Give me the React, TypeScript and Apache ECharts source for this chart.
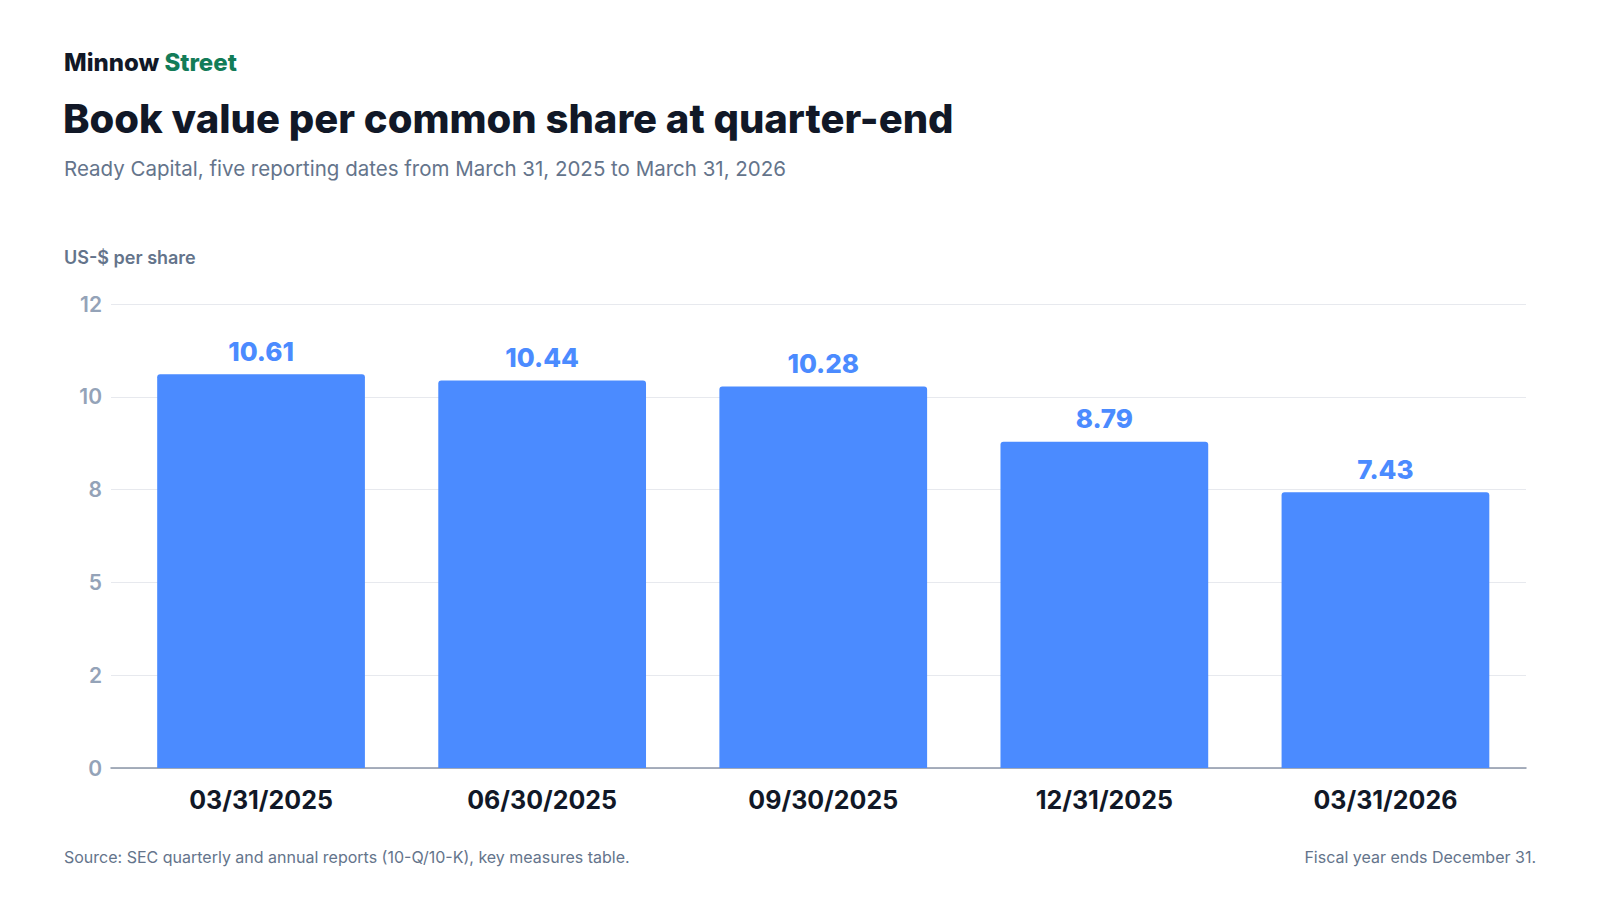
import React, { useEffect, useRef } from "react";
import * as echarts from "echarts";

const CATEGORIES = ["03/31/2025", "06/30/2025", "09/30/2025", "12/31/2025", "03/31/2026"];
const BOOK_VALUES = [10.61, 10.44, 10.28, 8.79, 7.43];
const Y_TICK_LABELS = ["0", "2", "5", "8", "10", "12"];
const Y_MIN = 0;
const Y_MAX = 12.5;
const Y_INTERVAL = 2.5;

const BRAND_A = "Minnow";
const BRAND_B = "Street";
const TITLE = "Book value per common share at quarter-end";
const SUBTITLE = "Ready Capital, five reporting dates from March 31, 2025 to March 31, 2026";
const Y_NAME = "US-$ per share";
const SOURCE = "Source: SEC quarterly and annual reports (10-Q/10-K), key measures table.";
const NOTE = "Fiscal year ends December 31.";

const FONT = "Inter, 'Noto Sans', sans-serif";
const DARK = "#111827";
const MUTED = "#64748b";
const TICK = "#94a3b8";
const BAR = "#4b8bff";
const GREEN = "#137c58";

const GRID_TOP = 304;
const GRID_BOTTOM = 132;

export default function App() {
  const ref = useRef<HTMLDivElement>(null);

  useEffect(() => {
    if (!ref.current) return;
    const chart = echarts.init(ref.current, null, { renderer: "svg" });
    const option: any = {
      animation: false,
      backgroundColor: "#ffffff",
      textStyle: { fontFamily: FONT },
      grid: [
        { left: 111, right: 74, top: GRID_TOP, bottom: GRID_BOTTOM },
        { left: 120.5, right: 74, top: GRID_TOP, bottom: GRID_BOTTOM },
      ],
      xAxis: [
        {
          gridIndex: 0,
          type: "value",
          min: 0,
          max: 1,
          axisLine: { show: true, lineStyle: { color: "#8b95a7", width: 1.5 } },
          axisTick: { show: false },
          axisLabel: { show: false },
          splitLine: { show: false },
        },
        {
          gridIndex: 1,
          type: "category",
          data: CATEGORIES,
          axisLine: { show: false },
          axisTick: { show: false },
          axisLabel: {
            color: DARK,
            fontFamily: FONT,
            fontSize: 25,
            fontWeight: 700,
            margin: 19,
          },
        },
      ],
      yAxis: [
        {
          gridIndex: 0,
          type: "value",
          min: Y_MIN,
          max: Y_MAX,
          interval: Y_INTERVAL,
          axisLine: { show: false },
          axisTick: { show: false },
          axisLabel: {
            color: TICK,
            fontFamily: FONT,
            fontSize: 21,
            fontWeight: 600,
            margin: 9,
            formatter: (v: number) => Y_TICK_LABELS[Math.round(v / Y_INTERVAL)] ?? "",
          },
          splitLine: { show: true, lineStyle: { color: "#e7e9ee", width: 1.2 } },
        },
        {
          gridIndex: 1,
          type: "value",
          min: Y_MIN,
          max: Y_MAX,
          interval: Y_INTERVAL,
          axisLine: { show: false },
          axisTick: { show: false },
          axisLabel: { show: false },
          splitLine: { show: false },
        },
      ],
      series: [
        {
          type: "bar",
          xAxisIndex: 1,
          yAxisIndex: 1,
          data: BOOK_VALUES,
          barCategoryGap: "26.1%",
          itemStyle: { color: BAR, borderRadius: [3, 3, 0, 0] },
          label: {
            show: true,
            position: "top",
            distance: 10,
            color: BAR,
            fontFamily: FONT,
            fontSize: 26,
            fontWeight: 800,
            formatter: (p: any) => p.value.toFixed(2),
          },
          z: 3,
        },
      ],
      graphic: [
        {
          type: "text",
          left: 64,
          top: 50,
          style: {
            text: `{a|${BRAND_A}} {b|${BRAND_B}}`,
            rich: {
              a: { fontFamily: FONT, fontSize: 24, fontWeight: 800, fill: DARK },
              b: { fontFamily: FONT, fontSize: 24, fontWeight: 800, fill: GREEN },
            },
            fontFamily: FONT,
            fontSize: 24,
            fontWeight: 800,
          },
        },
        {
          type: "text",
          left: 63,
          top: 98,
          style: {
            text: TITLE,
            fontFamily: FONT,
            fontSize: 40,
            fontWeight: 800,
            letterSpacing: -0.3,
            fill: DARK,
          },
        },
        {
          type: "text",
          left: 64,
          top: 158,
          style: {
            text: SUBTITLE,
            fontFamily: FONT,
            fontSize: 20.5,
            fontWeight: 400,
            fill: MUTED,
          },
        },
        {
          type: "text",
          left: 64,
          top: 248,
          style: {
            text: Y_NAME,
            fontFamily: FONT,
            fontSize: 18,
            fontWeight: 600,
            fill: MUTED,
          },
        },
        {
          type: "text",
          left: 64,
          top: 849,
          style: {
            text: SOURCE,
            fontFamily: FONT,
            fontSize: 16,
            fontWeight: 400,
            fill: MUTED,
          },
        },
        {
          type: "text",
          right: 64,
          top: 849,
          style: {
            text: NOTE,
            fontFamily: FONT,
            fontSize: 16,
            fontWeight: 400,
            fill: MUTED,
          },
        },
      ],
    };
    chart.setOption(option);
    return () => chart.dispose();
  }, []);

  return (
    <div
      ref={ref}
      style={{ position: "fixed", left: 0, top: 0, width: 1600, height: 900, background: "#fff" }}
    />
  );
}
